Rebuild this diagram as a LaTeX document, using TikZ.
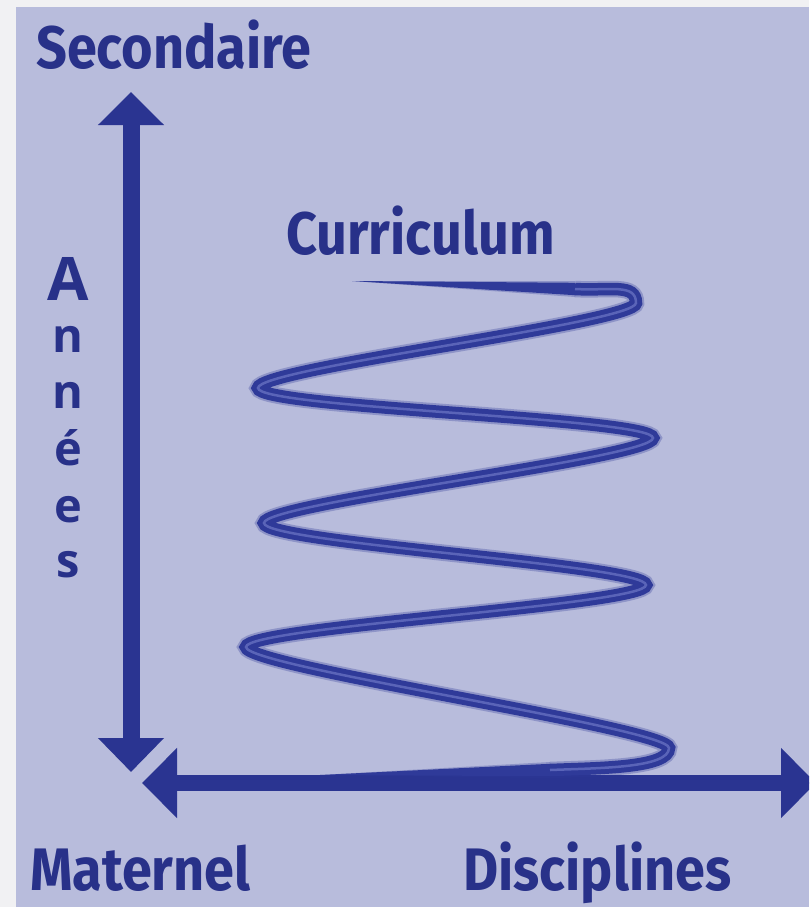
\documentclass[tikz,border=0pt]{standalone}
\usepackage{fontspec}
\usetikzlibrary{arrows.meta}
\newfontfamily\dinf{Fira Sans}[FakeStretch=0.9]
\newfontfamily\osf{Open Sans}
\definecolor{bgstrip}{HTML}{F1F1F3}
\definecolor{lav}{HTML}{B8BCDC}
\definecolor{ink}{HTML}{283189}
\definecolor{axisblue}{HTML}{2A3491}
\definecolor{spir}{HTML}{2F3A99}
\definecolor{spirlight}{HTML}{5A64B8}
\tikzset{
  lbl/.style={inner sep=0pt, text=ink, font=\dinf\bfseries\fontsize{60}{60}\selectfont},
  vlet/.style={inner sep=0pt, text=ink, anchor=base, font=\osf\bfseries\fontsize{47}{47}\selectfont},
  vcap/.style={inner sep=0pt, text=ink, anchor=base, font=\osf\bfseries\fontsize{60}{60}\selectfont},
  vaxis/.style={draw=axisblue, line width=17pt,
    {Triangle[width=64pt,length=34pt]}-{Triangle[width=64pt,length=33pt]}},
  haxis/.style={draw=axisblue, line width=16pt,
    {Triangle[width=68pt,length=35pt]}-{Triangle[width=68pt,length=35pt]}},
  spiralglow/.style={draw=spir, opacity=0.3, line width=16.5pt, line cap=butt},
  spiralbody/.style={draw=spir, line width=12.5pt, line cap=butt},
  spiralcore/.style={draw=spirlight, line width=2.5pt, line cap=butt},
}
\begin{document}
\begin{tikzpicture}[x=1pt,y=-1pt]
\useasboundingbox (0,0) rectangle (809,907);
\clip (0,0) rectangle (809,907);
\fill[bgstrip] (0,0) rectangle (809,907);
\fill[lav] (16,7) rectangle (809,907);

% axes
\coordinate (vb) at (131,772);
\coordinate (vt) at (131,92);
\coordinate (hl) at (142,783);
\coordinate (hr) at (816,783);
\draw[vaxis] (vb) -- (vt);
\draw[haxis] (hl) -- (hr);

% spiral (curriculum)
\coordinate (S) at (352,281);
\coordinate (A) at (575,289);
\coordinate (R1) at (636,303);
\coordinate (L1) at (258,388);
\coordinate (R2) at (653,438);
\coordinate (L2) at (264,523);
\coordinate (R3) at (646,585);
\coordinate (L3) at (246,647);
\coordinate (R4) at (669,748);
\coordinate (B) at (550,770);
\coordinate (E) at (320,775);
\def\spiralpath{(A) .. controls (610,291) and (636,283) .. (R1)
  .. controls (636,323) and (258,368) .. (L1)
  .. controls (258,408) and (653,418) .. (R2)
  .. controls (653,458) and (264,503) .. (L2)
  .. controls (264,543) and (646,565) .. (R3)
  .. controls (646,605) and (246,627) .. (L3)
  .. controls (246,667) and (669,728) .. (R4)
  .. controls (669,768) and (600,768) .. (B)}
\draw[spiralglow] \spiralpath;
\fill[spir, opacity=0.3] (S) -- (575,281) -- (575,297) -- cycle;
\fill[spir, opacity=0.3] (550,762) -- (E) -- (550,778) -- cycle;
\draw[spiralbody] \spiralpath;
\fill[spir] (S) -- (575,282.8) -- (575,295.2) -- cycle;
\fill[spir] (550,763.8) -- (E) -- (550,776.2) -- cycle;
\draw[spiralcore] \spiralpath;

% labels
\node[lbl, anchor=base west] (sec) at (36,68) {Secondaire};
\node[lbl, anchor=base west] (cur) at (286,254) {Curriculum};
\node[lbl, anchor=base west] (mat) at (30,890) {Maternel};
\node[lbl, anchor=base west] (dis) at (463,890) {Disciplines};

% Années (vertical)
\node[vcap] (a1) at (68,300) {A};
\node[vlet] (a2) at (68,352) {n};
\node[vlet] (a3) at (68,408) {n};
\node[vlet] (a4) at (68,465) {é};
\node[vlet] (a5) at (68,522) {e};
\node[vlet] (a6) at (68,577) {s};
\end{tikzpicture}
\end{document}
